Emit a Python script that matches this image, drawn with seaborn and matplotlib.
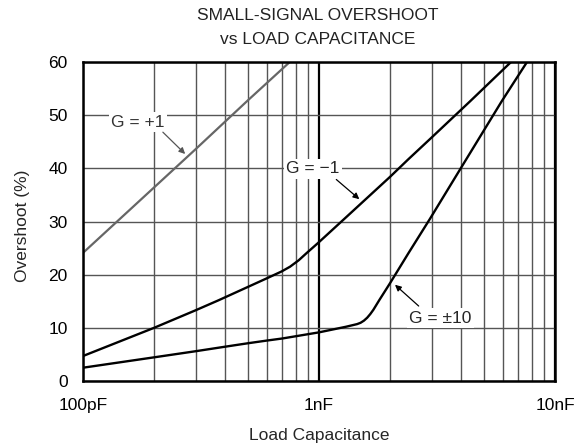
import matplotlib
matplotlib.use("Agg")
import matplotlib.pyplot as plt
import matplotlib.ticker as mticker
import pandas as pd
import seaborn as sns

# load capacitance in pF, overshoot in %
cap_g1 = [100, 200, 300, 500, 752]
os_g1 = [24.1, 36.4, 43.6, 52.8, 60.0]

cap_gm1 = [100, 200, 300, 376, 500, 600, 694, 754, 820, 883, 993, 1310, 2000, 2390, 2952, 4365, 6512]
os_gm1 = [4.7, 10.0, 13.3, 15.2, 17.7, 19.3, 20.6, 21.5, 22.7, 24.0, 26.0, 30.9, 38.4, 41.7, 45.5, 52.6, 60.0]

cap_g10 = [100, 200, 300, 400, 500, 600, 700, 1000, 1300, 1450, 1500, 1550, 1600, 1650, 1700, 1800,
           2000, 2390, 2952, 4024, 5943, 7610]
os_g10 = [2.5, 4.45, 5.6, 6.45, 7.1, 7.6, 8.0, 9.15, 10.2, 10.7, 10.95, 11.35, 11.9, 12.6, 13.4, 15.2,
          18.4, 24.0, 30.5, 40.3, 52.6, 60.0]

x_ticks = [100, 1000, 10000]
x_ticklabels = ["100pF", "1nF", "10nF"]
y_ticks = [0, 10, 20, 30, 40, 50, 60]

sns.set_style("white")
plt.rcParams["font.family"] = ["Liberation Sans", "DejaVu Sans"]
fs = 12.5

fig = plt.figure(figsize=(5.84, 4.45), dpi=100)
ax = fig.add_axes([83 / 584, 64 / 445, 472 / 584, 319 / 445])

df_g1 = pd.DataFrame({"cap": cap_g1, "os": os_g1})
df_gm1 = pd.DataFrame({"cap": cap_gm1, "os": os_gm1})
df_g10 = pd.DataFrame({"cap": cap_g10, "os": os_g10})

sns.lineplot(data=df_g1, x="cap", y="os", ax=ax, color="#666666", lw=1.6,
             sort=False, estimator=None)
sns.lineplot(data=df_gm1, x="cap", y="os", ax=ax, color="black", lw=1.7,
             sort=False, estimator=None)
sns.lineplot(data=df_g10, x="cap", y="os", ax=ax, color="black", lw=1.7,
             sort=False, estimator=None)

ax.set_xscale("log")
ax.set_xlim(100, 10000)
ax.set_ylim(0, 60)
ax.set_xticks(x_ticks)
ax.set_xticklabels(x_ticklabels)
ax.xaxis.set_minor_locator(mticker.LogLocator(base=10, subs=range(2, 10)))
ax.xaxis.set_minor_formatter(mticker.NullFormatter())
ax.set_yticks(y_ticks)

ax.xaxis.grid(True, which="major", color="black", lw=1.6)
ax.xaxis.grid(True, which="minor", color="#555555", lw=1.0)
ax.yaxis.grid(True, which="major", color="#555555", lw=1.0)
ax.set_axisbelow(True)

for s in ax.spines.values():
    s.set_color("black")
    s.set_linewidth(1.8)

ax.tick_params(axis="both", which="both", length=0, labelsize=fs, colors="black")
ax.tick_params(axis="x", pad=12)
ax.tick_params(axis="y", pad=11)

ax.set_xlabel("Load Capacitance", fontsize=fs)
ax.set_ylabel("Overshoot (%)", fontsize=fs)
ax.xaxis.set_label_coords(0.5, -0.147)
ax.yaxis.set_label_coords(-0.112, 0.485)

fig.text(318 / 584, 1 - 16 / 445, "SMALL-SIGNAL OVERSHOOT", ha="center", va="center",
         fontsize=fs, color="#222222")
fig.text(318 / 584, 1 - 39.5 / 445, "vs LOAD CAPACITANCE", ha="center", va="center",
         fontsize=fs, color="#222222")

box = dict(boxstyle="square,pad=0.15", fc="white", ec="none")
arrow_k = dict(arrowstyle="-|>", color="black", lw=0.9, mutation_scale=9,
               shrinkA=0, shrinkB=0)
arrow_g = dict(arrow_k, color="#555555")

ax.text(171, 48.7, "G = +1", ha="center", va="center", fontsize=fs,
        color="#333333", bbox=box, zorder=5)
ax.annotate("", xy=(271, 42.7), xytext=(218, 46.8), arrowprops=arrow_g, zorder=5)

ax.text(943, 39.9, "G = \u22121", ha="center", va="center", fontsize=fs,
        bbox=box, zorder=5)
ax.annotate("", xy=(1482, 34.2), xytext=(1184, 37.9), arrowprops=arrow_k, zorder=5)

ax.text(3273, 11.8, "G = \u00b110", ha="center", va="center", fontsize=fs,
        bbox=box, zorder=5)
ax.annotate("", xy=(2099, 18.1), xytext=(2645, 14.1), arrowprops=arrow_k, zorder=5)

fig.savefig("out.png", dpi=100)
